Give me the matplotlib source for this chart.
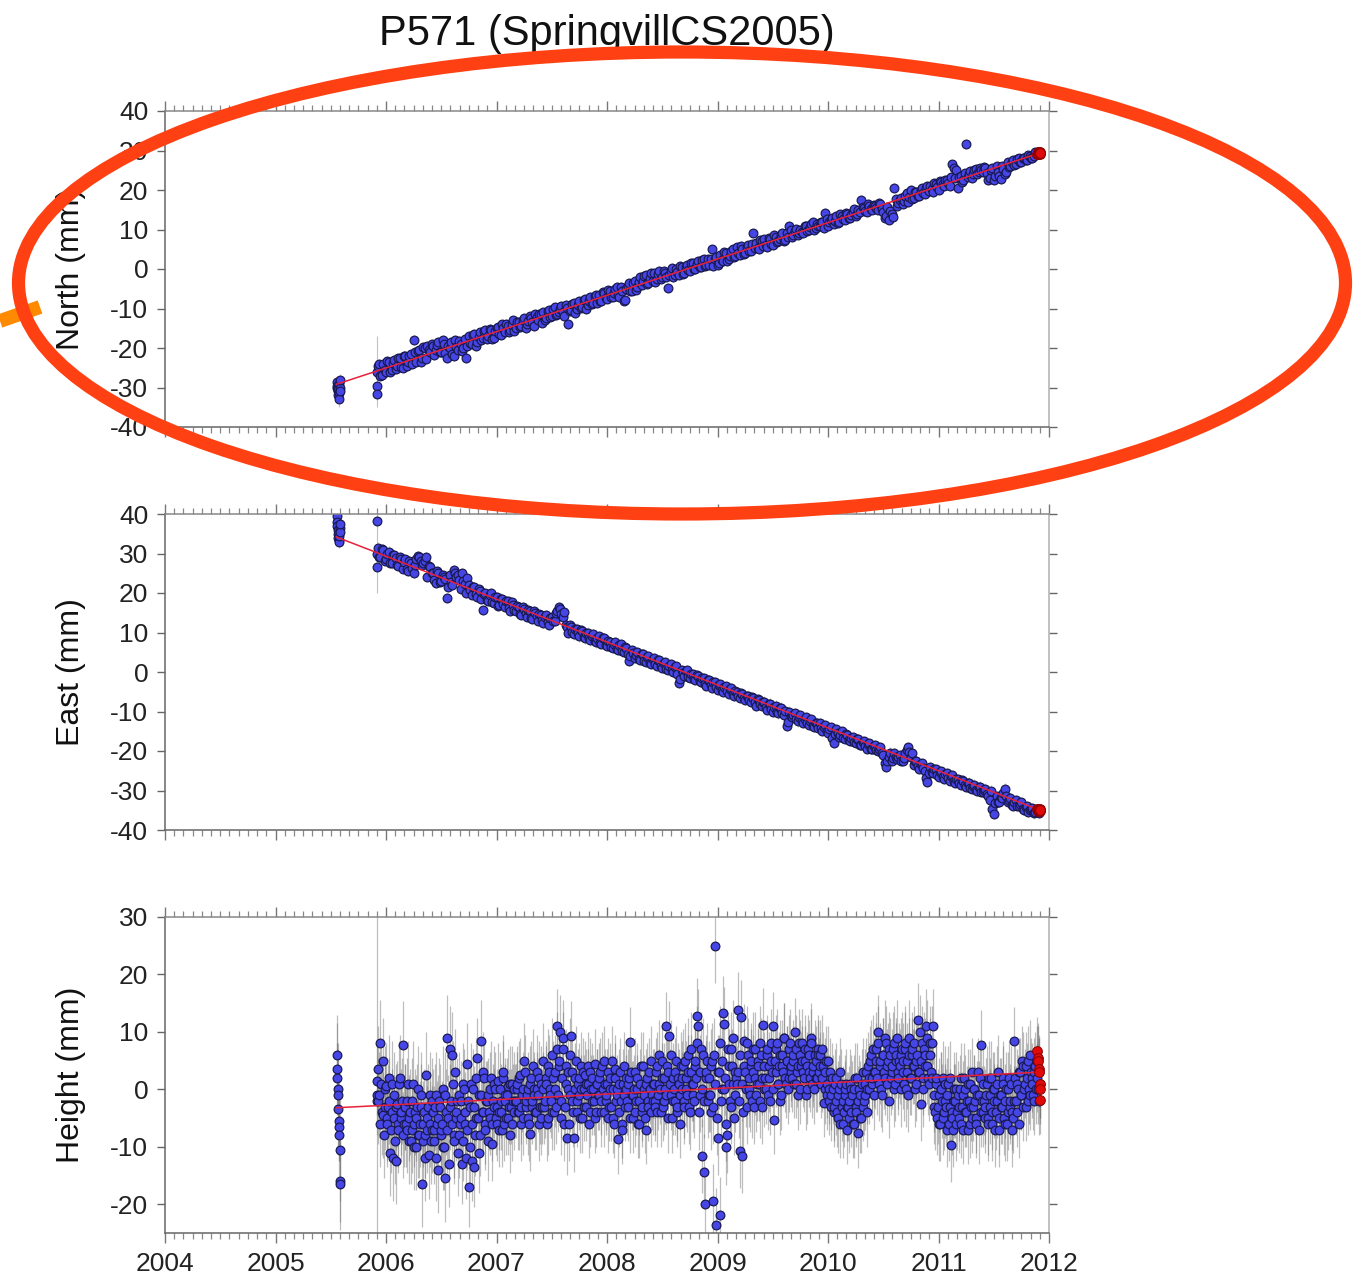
import numpy as np
import matplotlib
matplotlib.use("Agg")
import matplotlib.pyplot as plt
from matplotlib.patches import Ellipse
from matplotlib.ticker import MultipleLocator

plt.rcParams['font.family'] = ['Liberation Sans', 'DejaVu Sans']
plt.rcParams['axes.unicode_minus'] = False

# ------------------------------------------------------------------ data
TITLE = "P571 (SpringvillCS2005)"
YEARS = [2004, 2005, 2006, 2007, 2008, 2009, 2010, 2011, 2012]
PANEL_LABELS = ["North (mm)", "East (mm)", "Height (mm)"]

# first occupation (mid 2005) plus the first days of the continuous record
early_t = [2005.555, 2005.558, 2005.561, 2005.564, 2005.567, 2005.570,
           2005.573, 2005.576, 2005.579, 2005.582, 2005.585, 2005.588,
           2005.918, 2005.920, 2005.922]
early_north = [-28.5, -29.5, -30.0, -31.0, -32.0, -30.5, -29.0, -31.5, -33.0,
               -30.0, -28.0, -31.0, -29.6, -31.6, -26.0]
early_north_sig = [1.5, 1.5, 1.5, 1.5, 1.5, 1.5, 1.5, 1.5, 2.0, 1.5, 1.5, 1.5,
                   1.5, 1.5, 9.0]
early_east = [39.5, 38.0, 37.0, 36.0, 35.0, 34.0, 33.5, 33.0, 34.5, 36.5,
              35.5, 37.5, 38.3, 26.7, 30.0]
early_east_sig = [1.5, 1.5, 1.5, 1.5, 1.5, 1.5, 1.5, 1.5, 1.5, 1.5, 1.5, 1.5,
                  1.5, 1.5, 10.0]
early_height = [6.0, 3.5, 2.0, 0.0, -1.0, -3.5, -5.5, -6.5, -8.0, -10.5,
                -16.0, -16.5, 1.5, -2.0, -1.0]
early_height_sig = [7, 8, 6, 7, 9, 8, 7, 6, 8, 9, 7, 8, 6, 6, 40]

# continuous record: rows of half a year (north/east, 0.025 yr spacing,
# second set offset by half a step)
NE_ROW_START = 2005.925
NE_ROW_LEN = 0.5
NE_STEP = 0.025
north_rows = [
    [-24.5, -27.0, -24.0, -26.0, -23.5, -25.5, -23.0, -24.5, -22.5, -25.0, -22.0, -23.5, -21.5, -18.0, -23.5, -20.5, -22.5, -20.0, -19.5, -21.0],
    [-19.5, -20.5, -18.5, -21.0, -19.0, -22.5, -20.0, -21.5, -18.0, -20.5, -19.0, -20.0, -22.5, -17.0, -19.0, -16.5, -18.5, -16.0, -17.5, -15.5],
    [-17.0, -15.5, -17.5, -15.0, -16.5, -14.0, -16.0, -14.5, -15.5, -13.0, -15.0, -13.5, -14.5, -12.5, -14.0, -12.0, -13.5, -11.5, -13.0, -11.5],
    [-11.0, -12.5, -10.5, -12.0, -9.5, -11.5, -10.0, -11.0, -9.0, -14.0, -10.5, -8.5, -10.0, -8.0, -9.5, -7.5, -9.0, -7.0, -8.5, -6.5],
    [-6.5, -8.0, -6.0, -7.5, -5.5, -7.0, -5.0, -6.5, -4.5, -8.0, -5.0, -3.5, -5.5, -3.0, -4.5, -2.0, -3.0, -1.5, -3.5, -1.0],
    [-1.0, -2.5, -0.5, -2.0, -1.0, -4.8, -0.5, -2.0, 0.0, -1.5, 0.5, -1.0, 1.0, -0.5, 1.5, 0.0, 2.0, 0.5, 2.5, 1.0],
    [1.0, 5.0, 2.5, 1.0, 3.5, 2.0, 4.0, 2.5, 4.5, 3.0, 5.5, 3.5, 5.0, 4.0, 6.0, 4.5, 9.0, 6.5, 5.0, 7.0],
    [7.5, 5.5, 7.5, 6.0, 8.0, 7.0, 8.5, 7.0, 9.0, 11.0, 8.0, 9.5, 8.5, 10.0, 9.0, 11.0, 10.0, 11.5, 10.0, 11.5],
    [11.0, 12.0, 14.2, 11.0, 12.5, 11.5, 13.5, 12.0, 13.5, 12.5, 14.0, 13.0, 14.5, 13.5, 15.0, 17.5, 15.5, 14.5, 16.0, 15.0],
    [16.0, 15.0, 16.5, 14.5, 13.5, 12.5, 14.0, 20.5, 16.0, 17.5, 16.5, 18.5, 17.0, 20.0, 18.0, 19.5, 18.5, 20.5, 19.0, 21.0],
    [21.0, 19.5, 21.5, 20.0, 22.0, 21.0, 22.5, 21.0, 26.5, 23.0, 20.5, 23.5, 22.5, 31.7, 24.0, 23.0, 25.0, 24.0, 25.5, 24.5],
    [25.5, 22.5, 25.0, 22.5, 26.0, 23.5, 26.0, 24.0, 27.0, 26.0, 27.5, 26.5, 28.0, 27.0, 28.0, 27.5, 28.5, 28.0, 29.5, 29.0],
]
north_rows_b = [
    [-24.0, -26.8, -25.5, -23.2, -26.0, -23.8, -25.4, -22.6, -24.8, -21.9, -24.6, -22.0, -24.0, -21.0, -20.8, -23.6, -19.8, -22.8, -20.6, -19.0],
    [-21.8, -19.2, -20.9, -18.0, -21.2, -19.5, -18.6, -22.0, -19.8, -18.2, -20.8, -17.6, -19.6, -18.8, -16.8, -19.5, -17.2, -18.0, -15.6, -17.8],
    [-15.2, -17.6, -15.8, -14.6, -16.8, -15.0, -13.8, -16.0, -14.2, -15.6, -13.4, -14.8, -12.8, -15.0, -13.2, -12.4, -14.4, -12.2, -11.4, -13.6],
    [-12.8, -10.6, -12.2, -10.0, -11.6, -10.8, -9.4, -12.0, -9.8, -10.6, -8.8, -11.2, -9.0, -9.8, -7.8, -10.2, -8.0, -8.8, -6.8, -8.6],
    [-8.0, -5.8, -7.4, -5.2, -7.0, -6.0, -4.6, -7.2, -5.6, -7.8, -4.2, -5.6, -3.6, -5.2, -3.4, -4.0, -1.8, -3.8, -2.2, -3.0],
    [-3.4, -1.2, -2.6, -0.4, -2.0, -1.6, 0.2, -1.6, -0.8, 0.8, -1.2, 0.4, -0.2, 1.6, 0.0, 1.2, 0.4, 2.4, 0.8, 2.6],
    [2.6, 0.8, 3.0, 1.6, 2.2, 4.2, 2.0, 3.4, 5.0, 3.2, 4.0, 5.8, 3.8, 5.6, 4.6, 6.4, 5.2, 5.4, 7.4, 5.8],
    [6.0, 7.8, 6.4, 8.6, 6.8, 7.6, 9.2, 7.4, 8.2, 9.8, 8.6, 10.2, 9.0, 9.4, 11.0, 9.6, 10.6, 12.0, 10.4, 11.0],
    [12.0, 10.4, 12.6, 11.8, 13.0, 12.2, 11.6, 13.8, 12.6, 14.2, 13.0, 13.6, 15.2, 13.8, 14.4, 15.8, 14.6, 16.4, 15.2, 16.2],
    [15.4, 16.8, 15.2, 13.0, 15.8, 14.8, 13.2, 17.8, 16.8, 18.0, 17.2, 19.2, 18.2, 17.6, 19.6, 18.4, 20.0, 19.2, 20.6, 19.8],
    [20.2, 21.8, 20.8, 22.2, 21.4, 22.6, 21.8, 23.2, 25.6, 25.0, 23.2, 22.0, 24.2, 23.4, 24.8, 24.0, 25.4, 24.6, 25.0, 25.8],
    [24.4, 23.0, 25.6, 23.6, 24.6, 22.8, 25.2, 24.6, 25.8, 27.0, 26.4, 27.8, 27.2, 28.2, 27.6, 28.8, 28.2, 28.6, 29.2, 29.6],
]
east_rows = [
    [31.5, 29.0, 31.0, 28.5, 30.5, 27.5, 29.5, 27.0, 29.0, 26.0, 28.5, 25.5, 27.5, 25.0, 28.5, 29.0, 27.0, 28.0, 24.0, 26.5],
    [25.0, 22.5, 25.0, 23.0, 24.0, 18.7, 24.5, 22.0, 25.0, 24.5, 21.0, 23.0, 20.0, 22.0, 19.5, 21.5, 19.0, 20.5, 15.7, 20.0],
    [18.0, 20.0, 17.5, 19.0, 17.0, 18.5, 16.5, 18.0, 15.5, 17.0, 15.5, 16.5, 14.5, 16.0, 14.0, 15.5, 13.5, 15.0, 13.0, 14.5],
    [12.5, 14.5, 12.0, 14.0, 13.0, 15.5, 16.0, 14.0, 12.0, 10.0, 11.5, 9.5, 11.0, 9.0, 10.5, 8.5, 10.0, 8.0, 9.5, 7.5],
    [9.0, 7.0, 8.5, 6.5, 7.5, 6.0, 7.5, 5.5, 7.0, 5.0, 6.0, 2.7, 5.5, 3.5, 5.0, 3.0, 4.5, 2.5, 4.0, 2.0],
    [3.5, 1.5, 3.0, 1.0, 2.5, 0.5, 2.0, 0.0, 1.5, -2.7, 0.5, -1.0, 0.5, -1.5, -0.5, -2.0, -1.0, -2.5, -1.5, -3.5],
    [-2.0, -4.0, -2.5, -4.5, -3.0, -5.0, -3.5, -5.5, -4.0, -6.0, -5.0, -6.5, -5.5, -7.0, -6.0, -7.5, -6.5, -8.5, -7.0, -8.5],
    [-7.5, -9.5, -8.0, -10.0, -8.5, -10.5, -9.0, -11.0, -13.7, -10.0, -11.5, -10.5, -12.5, -11.0, -13.0, -11.5, -13.5, -12.0, -14.0, -13.0],
    [-13.0, -15.0, -13.5, -15.5, -14.0, -18.0, -14.5, -16.5, -15.0, -17.0, -16.0, -17.5, -16.5, -18.0, -17.0, -18.5, -17.5, -19.5, -18.0, -19.5],
    [-18.5, -20.0, -19.0, -21.0, -24.0, -21.5, -22.5, -20.5, -22.0, -21.0, -22.5, -20.5, -19.0, -21.5, -23.5, -22.5, -24.5, -23.0, -25.0, -27.8],
    [-24.0, -25.5, -24.5, -26.5, -25.0, -27.0, -25.5, -27.5, -26.0, -28.0, -27.0, -28.5, -27.5, -29.0, -28.0, -29.5, -28.5, -30.0, -29.0, -30.5],
    [-29.5, -31.5, -30.0, -36.0, -31.5, -33.0, -32.0, -29.5, -33.0, -32.0, -34.0, -32.5, -34.0, -33.0, -35.0, -34.0, -35.0, -34.5, -35.5, -35.0],
]
east_rows_b = [
    [29.0, 31.2, 28.2, 30.0, 27.6, 29.6, 28.8, 26.8, 28.6, 27.8, 26.2, 28.0, 26.4, 27.2, 29.4, 28.2, 27.6, 29.0, 26.8, 25.0],
    [23.4, 25.6, 22.8, 24.6, 23.6, 21.6, 22.8, 25.8, 24.0, 23.4, 25.0, 22.4, 23.8, 20.8, 21.6, 19.8, 21.0, 18.6, 19.8, 18.2],
    [19.6, 17.8, 19.0, 16.8, 18.6, 17.2, 18.0, 16.2, 17.6, 15.8, 16.6, 14.8, 16.4, 15.0, 15.8, 13.6, 15.4, 14.2, 14.6, 13.2],
    [13.8, 12.6, 13.6, 12.8, 15.0, 16.4, 14.8, 15.2, 11.4, 11.8, 10.2, 11.0, 9.8, 10.6, 8.8, 9.8, 8.6, 9.2, 7.8, 8.6],
    [7.4, 8.6, 6.8, 7.8, 6.4, 7.2, 5.8, 6.8, 5.2, 6.4, 4.6, 4.0, 4.8, 4.2, 3.4, 4.6, 2.8, 3.8, 2.4, 3.2],
    [2.0, 3.0, 1.6, 2.2, 0.8, 1.6, 0.4, 1.2, -0.6, -1.8, -0.2, 0.2, -1.2, -0.4, -1.8, -0.8, -2.4, -1.4, -3.0, -2.0],
    [-3.4, -2.6, -3.8, -3.2, -4.6, -3.8, -4.8, -4.2, -5.6, -4.8, -6.0, -5.4, -6.6, -6.0, -7.2, -6.4, -7.6, -6.8, -8.0, -7.6],
    [-8.8, -8.2, -9.4, -8.8, -10.0, -9.2, -10.4, -9.8, -12.6, -11.2, -10.8, -12.0, -11.4, -12.4, -11.8, -13.0, -12.4, -13.6, -12.8, -14.2],
    [-14.2, -13.8, -15.0, -14.4, -16.8, -15.8, -15.4, -16.0, -16.6, -15.8, -17.2, -16.6, -17.6, -17.0, -18.4, -17.6, -18.8, -18.2, -19.4, -18.8],
    [-19.8, -19.4, -20.6, -23.0, -22.6, -20.4, -21.8, -21.6, -21.4, -22.6, -21.8, -19.8, -20.2, -20.6, -22.6, -23.8, -23.2, -24.4, -26.8, -25.6],
    [-25.2, -24.6, -26.0, -25.4, -26.6, -25.8, -26.8, -26.4, -27.6, -27.0, -28.0, -27.4, -28.6, -28.2, -29.4, -28.8, -29.8, -29.2, -30.4, -29.8],
    [-30.8, -32.4, -34.6, -33.2, -32.8, -31.6, -30.6, -31.4, -32.4, -33.6, -33.0, -33.8, -33.4, -34.8, -34.2, -35.4, -34.6, -35.8, -35.0, -35.6],
]
north_sig = 1.2
east_sig = 1.3

# height: rows of a quarter year (0.0125 yr spacing, second set offset by half a step)
H_ROW_START = 2005.925
H_ROW_LEN = 0.25
H_STEP = 0.0125
height_rows = [
    [3.5, -1, 8, -4, 5, -3, 0.5, -6, -2, -11, 1, -12, -5, -12.5, -2.5, -7, 2, -4, 7.8, -6],
    [-3, -7, 1, -5, -9, -2, -6, -4, -10, 0, -8, -3, -16.5, -6, -8, 2.5, -5, -11.5, -1, -7],
    [-4, -9, -1, -6, -14, -3, -7, 0, -10, -15.5, 9, -5, 7, -2, 6, -8, 3, -4, -11, -1],
    [-2, -13, 1, -6, -12, 4.5, -17, -3, -12.5, 0, -13.5, -5, 5.5, -1, -8, 8.5, -4, 2, -7, -2],
    [-1, -5, 2, -9.5, -3, 0, -6, 1.5, -4, -2, -7, 3, -1, -5, 0.5, -3, -8, 1, -2, -4],
    [-2, 1, -4, 2.5, -6, 0, 5, -3, -1, -5, -7.7, 2, -2, 0, -4, 3, -1, -6, 1, -3],
    [5, -2, 1, -5, 3, -1, -4, 2, 0, -3, 11, 4, 10, -2, 7, -6, 1, -8.4, 3, -1],
    [9.3, -2, -8.4, 2, -4, 1, -1, 4, -5, 0, 2.5, -3, 1, -6, 3, -2, 0, 4.5, -4, 1],
    [-1, 3, -4, 0, 5, -2, 1, -5, 2, -3, 0, -6, 3.5, -1, -8.7, 1, -2, -7, 4, -3],
    [0, -3, 2, 8.3, -1, -5, 3, -2, 0, -6, 1, -4, 4, -1, -7, 2, -3, 0, 5, -2],
    [1, -3, 4, -1, 6, -4, 2, -2, 0, 11, 3, 9.3, -1, -5, 2, -2, 5, -3, 1, -6],
    [0, 4, -3, 2, -1, 6, -4, 3, 1, -2, 5, 12.8, 11, -1, 7, -11.6, -14.3, -20, 3, -2],
    [2, -4, 5, -19.5, 25, -23.6, -8.4, 3, -21.8, 0, 13.3, 11.4, -10.1, -8, 4, -2, 7, 1, -5, 3],
    [1, 13.9, -10.7, 12.6, -11.6, 8.4, 3, -3, 6, 0, 4, -2, 7, 2, -1, 5, 1, 8, -3, 11.2],
    [4, 0, 7, 2, -2, 5, 11, -5.3, 3, 8, 1, 6, -1, 4, 9, 2, 5, 0, 7, 3],
    [2, 6, 9.9, 1, 4, 8, 0, 5, 3, 7, -1, 4, 6, 2, 8, 3, 0, 5, 2, 6],
    [4, 1, 7, -2.3, 3, -1, 5, 0, -3, 2, -4, 1, -2, -5, 0, 3, -3, -6, -1, 1],
    [-7, -2, 1, -4, -6, 0, -3, 2, -7.6, -1, -5, 3, -2, 1, -4, 4, 0, 6, 2, -1],
    [3, 7, 9.9, 1, 5, -1, 6, 2, 8, 4, -2, 6, 3, 7, 0, 5, 9, 2, 4, 6],
    [5, 1, 8, 3, -1, 6, 2, 7, 4, 0, 5, 12, 3, -2.5, 8, 2, 6, 11, 4, 1],
    [6, 2, 11, -3, 1, -5, -1, -6, 0, 2, -4, -2, -7, 1, -3, -9.6, -5, 0, -2, -6],
    [-1, -5, 2, -3, -7, 0, -4, 1, -2, -6, 3, -3, 0, -5, -1, -7, 2, 7.8, -4, -2],
    [-3, 1, -6, -1, 2, -4, 0, -7, -2, 3, -5, -1, -3, 1, -6, 0, -4, 2, -2, -7],
    [-5, 8.4, -2, 1, -6, 3, -1, 4, 0, -3, 2, 5, -1, 3, 1, -2, 4, 2, 0, 3],
]
height_rows_b = [
    [-2, -6, 1, -4.5, -8, 0, -5, -3, 2, -7, -4, -1, -9, -3, -6, 1, -5, -2, -8, -3],
    [-6, -2, -9, -4, -7, 1, -10, -5, -3, -8, -6, -1, -9, -4, -12, -7, -3, -6, -9, -2],
    [-7, -3, -12, -5, -2, -8, -6, -10, -1, -4, -7, -13, -3, -6, 1, -9, -5, -2, -8, -6],
    [-5, -9, 0, -4, -7, -2, -10, 1, -6, -3, -8, 2, -5, -11, -1, -4, 3, -6, -2, -9],
    [-4, 0, -6, -2, 1, -5, -3, -7, 0, -4, 2, -6, -2, -1, -5, 1, -3, -6, 0, -2],
    [0, -4, 2, -3, -1, -5, 3, -2, 0, -6, 1, -3, 4, -1, -4, 0, 2, -3, -5, 0],
    [-3, 2, -6, 4, 0, -2, 6, -4, 3, 7, -1, 5, -5, 2, 9, -3, 4, 0, -6, 6],
    [3, -4, 0, 5, -2, 2, -5, 0, 3, -3, 1, -1, 4, -4, 0, 2, -2, -5, 1, -1],
    [2, -2, 4, -4, 1, -1, 3, -3, 0, 5, -5, 2, -2, 0, -4, 3, -6, 1, -1, 2],
    [-2, 1, -5, 3, -1, 0, -4, 2, -6, -2, 4, -3, 0, -5, 1, -2, 3, -4, -1, 1],
    [-2, 3, -4, 1, 0, 5, -3, 2, -1, 4, -5, 1, 6, -2, 0, 3, -4, 2, -1, 4],
    [2, -2, 5, 0, 3, -3, 7, 1, -1, 4, 2, 8, -4, 3, 0, 6, -2, 2, 5, -1],
    [-1, 4, -3, 6, 1, -5, 3, 8, -2, 5, 0, 2, -6, 7, 1, -3, 4, 9, -1, 2],
    [3, -2, 6, 1, -4, 4, 0, 8, 2, -1, 5, 3, -3, 7, 1, 4, -2, 6, 2, 0],
    [2, 6, -1, 4, 8, 3, 0, 5, 7, 1, 4, -2, 6, 3, 9, 1, 5, 2, 8, 4],
    [5, 1, 7, 3, -1, 6, 4, 8, 2, 5, 0, 7, 3, 9, 1, 4, 6, 2, 7, 3],
    [6, 2, 4, 0, 5, 1, -2, 3, -1, 0, -3, 2, -4, -1, -6, 1, -2, -4, 0, -3],
    [-3, -5, 0, -1, -6, 2, -4, -2, 0, -5, 1, -3, -1, 3, 0, 2, 5, 1, 7, 3],
    [5, 2, 8, 4, 0, 6, 3, 9, 1, 5, 7, 2, 4, 8, 1, 6, 3, 5, 0, 7],
    [3, 7, 0, 5, 9, 2, 6, 4, 8, 1, 6, 3, 10, 5, 0, 7, 4, 9, 2, 8],
    [3, 8, -1, -4, 2, -3, -6, 0, -2, -5, 1, -3, -1, -6, 2, -4, -7, -2, 0, -4],
    [-3, 0, -6, -1, 2, -4, -2, -7, 1, -3, -5, 0, -2, -6, 3, -1, -4, -2, 1, -5],
    [-1, -5, 2, -3, -6, 0, -2, -4, 1, -7, -1, -3, 2, -5, -2, -6, 0, -3, 1, -4],
    [-2, 2, -4, 0, 3, -1, 5, -3, 1, 4, -2, 0, 6, 2, -1, 3, 0, 5, -2, 1],
]
height_row_sig = [7.5, 7.5, 7.5, 7, 6.5, 6.5, 6.5, 6, 6, 6, 6, 6.5,
                  6.5, 6.5, 6, 6, 6, 6, 6.5, 6.5, 6.5, 6, 6.5, 6]

# most recent days (highlighted in red)
red_t = [2011.895, 2011.899, 2011.903, 2011.907, 2011.911, 2011.915, 2011.919, 2011.923]
red_north = [29.0, 29.5, 29.2, 29.7, 29.3, 29.6, 29.1, 29.4]
red_east = [-34.6, -35.1, -34.8, -35.3, -34.9, -35.2, -34.7, -35.0]
red_height = [6.6, 5.5, 5.0, 3.5, 3.0, 1.0, 0.0, -1.8]
red_height_sig = [6, 6, 6, 6, 6, 6, 6, 6]

# fitted velocity line end points
trend_t = [2005.55, 2011.92]
trend_north = [-29.2, 29.4]
trend_east = [34.2, -35.0]
trend_height = [-3.2, 3.0]

# ------------------------------------------------------------------ style
BLUE = '#4646e6'
BLUE_EDGE = '#18184e'
RED_LINE = '#e8203a'
SPINE = '#666666'
TICK_FS = 19

W, H = 1367, 1283
fig = plt.figure(figsize=(W / 100, H / 100), dpi=100)
fig.patch.set_facecolor('white')

L, R = 165, 1049
panels_px = [(111, 427), (514, 830), (917, 1233)]
axes = []
for top, bot in panels_px:
    ax = fig.add_axes([L / W, 1 - bot / H, (R - L) / W, (bot - top) / H])
    axes.append(ax)


def rows_to_arrays(row_sets, start, row_len, step, sig_rows):
    ts, vs, ss = [], [], []
    for k, rows in enumerate(row_sets):
        offset = k * step / len(row_sets)
        for r, row in enumerate(rows):
            t0 = start + r * row_len + offset
            for j, v in enumerate(row):
                ts.append(t0 + j * step)
                vs.append(v)
                ss.append(sig_rows[r] if isinstance(sig_rows, list) else sig_rows)
    order = np.argsort(ts)
    return np.array(ts)[order], np.array(vs, float)[order], np.array(ss, float)[order]


def style_axis(ax, ylim, yticks, bottom_labels):
    ax.set_xlim(YEARS[0], YEARS[-1])
    ax.set_ylim(*ylim)
    ax.set_xticks(YEARS)
    ax.xaxis.set_minor_locator(MultipleLocator(1 / 12))
    ax.set_yticks(yticks)
    ax.set_yticklabels([str(v) for v in yticks])
    if bottom_labels:
        ax.set_xticklabels([str(y) for y in YEARS])
    ax.tick_params(axis='x', which='major', direction='out', top=True, bottom=True,
                   length=7, width=1.0, color='#777777', labelsize=TICK_FS,
                   labelcolor='#222222', pad=7, labelbottom=bottom_labels)
    ax.tick_params(axis='x', which='minor', direction='out', top=True, bottom=True,
                   length=4, width=0.9, color='#888888')
    ax.tick_params(axis='y', which='major', direction='out', left=True, right=True,
                   length=6, width=1.0, color='#666666', labelsize=TICK_FS,
                   labelcolor='#222222', pad=6)
    for tk in ax.yaxis.get_major_ticks():
        tk.tick2line.set_color('#aaaaaa')
    ax.spines['left'].set_color(SPINE)
    ax.spines['bottom'].set_color(SPINE)
    ax.spines['top'].set_color('#888888')
    ax.spines['right'].set_color('#b0b0b0')
    for s in ax.spines.values():
        s.set_linewidth(1.1)


def draw(ax, t, v, s, et, ev, es, rv, rs, tv, bar_color, bar_alpha, bar_lw):
    ax.vlines(et, np.array(ev) - np.array(es), np.array(ev) + np.array(es),
              color=bar_color, alpha=bar_alpha, lw=bar_lw, zorder=1)
    ax.vlines(t, v - s, v + s, color=bar_color, alpha=bar_alpha, lw=bar_lw, zorder=1)
    ax.vlines(red_t, np.array(rv) - np.array(rs), np.array(rv) + np.array(rs),
              color=bar_color, alpha=bar_alpha, lw=bar_lw, zorder=1)
    ax.plot(et, ev, 'o', ms=6.3, mfc=BLUE, mec=BLUE_EDGE, mew=0.85, zorder=2, ls='none')
    ax.plot(t, v, 'o', ms=6.3, mfc=BLUE, mec=BLUE_EDGE, mew=0.85, zorder=2, ls='none')
    ax.plot(trend_t, tv, color=RED_LINE, lw=1.1, zorder=3)
    ax.plot(red_t, rv, 'o', ms=7.0, mfc='#e00a0a', mec='#8a0000', mew=0.7, zorder=4, ls='none')


# North
t, v, s = rows_to_arrays([north_rows, north_rows_b], NE_ROW_START, NE_ROW_LEN, NE_STEP, north_sig)
draw(axes[0], t, v, s, early_t, early_north, early_north_sig, red_north,
     [north_sig] * len(red_t), trend_north, '#9a9a9a', 0.6, 0.8)
style_axis(axes[0], (-40, 40), list(range(-40, 41, 10)), False)

# East
t, v, s = rows_to_arrays([east_rows, east_rows_b], NE_ROW_START, NE_ROW_LEN, NE_STEP, east_sig)
draw(axes[1], t, v, s, early_t, early_east, early_east_sig, red_east,
     [east_sig] * len(red_t), trend_east, '#9a9a9a', 0.6, 0.8)
style_axis(axes[1], (-40, 40), list(range(-40, 41, 10)), False)

# Height
t, v, s = rows_to_arrays([height_rows, height_rows_b], H_ROW_START, H_ROW_LEN, H_STEP, height_row_sig)
draw(axes[2], t, v, s, early_t, early_height, early_height_sig, red_height,
     red_height_sig, trend_height, '#6e6e6e', 0.45, 0.9)
style_axis(axes[2], (-25, 30), list(range(-20, 31, 10)), True)

# y labels and title
for (top, bot), lab in zip(panels_px, PANEL_LABELS):
    fig.text(71 / W, 1 - (top + bot) / 2 / H, lab, rotation=90, ha='center',
             va='center', fontsize=23, color='#111111')
fig.text(607 / W, 1 - 45 / H, TITLE, ha='center', va='baseline', fontsize=30,
         color='#111111')

# ------------------------------------------------------------------ hand-drawn annotation overlay
ov = fig.add_axes([0, 0, 1, 1], zorder=10)
ov.set_xlim(0, W)
ov.set_ylim(H, 0)
ov.axis('off')
ov.patch.set_alpha(0)
ov.plot([0, 40], [321, 307], color='#ff8a00', lw=10, solid_capstyle='butt', zorder=1)
ov.add_patch(Ellipse((682, 283), 1327, 462, fill=False, edgecolor='#ff4013',
                     lw=9.5, zorder=2))

fig.savefig('out.png', dpi=100)
